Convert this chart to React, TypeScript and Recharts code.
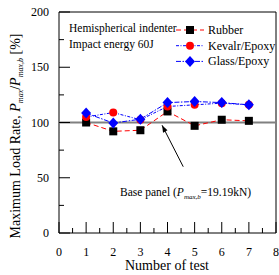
import { LineChart, Line, XAxis, YAxis, ReferenceLine, ReferenceArea } from 'recharts'

const tests = [1, 2, 3, 4, 5, 6, 7]
const rubber = [100, 92, 93, 110, 97, 102.5, 101.5]
const kevlar = [105, 109, 102.5, 114.5, 116, 117.5, 116]
const glass = [108.5, 99.5, 103, 118, 119, 118, 116]
const xTicks = [0, 0.5, 1, 1.5, 2, 2.5, 3, 3.5, 4, 4.5, 5, 5.5, 6, 6.5, 7, 7.5, 8]
const yTicks = [0, 25, 50, 75, 100, 125, 150, 175, 200]

const data = tests.map((t, i) => ({ test: t, rubber: rubber[i], kevlar: kevlar[i], glass: glass[i] }))

const FONT = '"Liberation Serif", "Times New Roman", serif'

function Square({ cx, cy }: any) {
  if (cx == null || cy == null) return null
  return <rect x={cx - 4} y={cy - 4} width={8} height={8} fill="#000" />
}

function Circle({ cx, cy }: any) {
  if (cx == null || cy == null) return null
  return <circle cx={cx} cy={cy} r={4} fill="#ff0000" />
}

function Diamond({ cx, cy }: any) {
  if (cx == null || cy == null) return null
  return <polygon points={`${cx},${cy - 5.5} ${cx + 5},${cy} ${cx},${cy + 5.5} ${cx - 5},${cy}`} fill="#0000ff" />
}

function YTick({ x, y, payload }: any) {
  const major = payload.value % 50 === 0
  return (
    <g>
      <line x1={x} y1={y} x2={x + (major ? 11 : 5)} y2={y} stroke="#000" />
      {major && (
        <text x={x - 10} y={y + 4} textAnchor="end" fontSize={12} fontFamily={FONT} fill="#000">
          {payload.value}
        </text>
      )}
    </g>
  )
}

function XTick({ x, y, payload }: any) {
  const major = Number.isInteger(payload.value)
  return (
    <g>
      <line x1={x} y1={y} x2={x} y2={y - (major ? 11 : 5)} stroke="#000" />
      {major && (
        <text x={x} y={y + 23} textAnchor="middle" fontSize={12} fontFamily={FONT} fill="#000">
          {payload.value}
        </text>
      )}
    </g>
  )
}

function Arrow({ x1, y1, x2, y2 }: any) {
  if (x1 == null) return null
  const ang = Math.atan2(y1 - y2, x1 - x2)
  const len = 7
  const w = 2.5
  const bx = x1 - Math.cos(ang) * len
  const by = y1 - Math.sin(ang) * len
  const px = -Math.sin(ang) * w
  const py = Math.cos(ang) * w
  return (
    <g>
      <line x1={x1} y1={y1} x2={x2} y2={y2} stroke="#000" strokeWidth={1} />
      <polygon points={`${x1},${y1} ${bx + px},${by + py} ${bx - px},${by - py}`} fill="#000" />
    </g>
  )
}

const legendItems = [
  { name: 'Rubber', color: '#ff0000', dash: '5 3', marker: 'square' },
  { name: 'Kevalr/Epoxy', color: '#0000ff', dash: '3 1.5 1 1.5', marker: 'circle' },
  { name: 'Glass/Epoxy', color: '#0000ff', dash: '5 1.5 1.5 1.5', marker: 'diamond' },
]

function LegendBox({ left, top }: { left: number; top: number }) {
  return (
    <g transform={`translate(${left},${top})`}>
      {legendItems.map((it, i) => {
        const y = i * 15.7
        return (
          <g key={it.name}>
            <line x1={0} y1={y} x2={28} y2={y} stroke={it.color} strokeDasharray={it.dash} />
            {it.marker === 'square' && <Square cx={14} cy={y} />}
            {it.marker === 'circle' && <Circle cx={14} cy={y} />}
            {it.marker === 'diamond' && <Diamond cx={14} cy={y} />}
            <text x={32} y={y + 4} fontSize={12} fill="#000">
              {it.name}
            </text>
          </g>
        )
      })}
    </g>
  )
}

export default function App() {
  return (
    <div style={{ position: 'relative', width: 279, height: 275, background: '#fff' }}>
      <style>{'body{margin:0}'}</style>
      <LineChart width={279} height={275} data={data} margin={{ top: 12, right: 3, left: 0, bottom: 0 }}>
        <XAxis
          dataKey="test"
          type="number"
          domain={[0, 8]}
          ticks={xTicks}
          interval={0}
          height={42}
          tickSize={0}
          tickMargin={0}
          tick={<XTick />}
          axisLine={false}
        />
        <YAxis
          type="number"
          domain={[0, 200]}
          ticks={yTicks}
          interval={0}
          width={59}
          tickSize={0}
          tickMargin={0}
          tick={<YTick />}
          axisLine={false}
        />
        <ReferenceArea x1={0} x2={8} y1={0} y2={200} fill="none" stroke="#000" strokeWidth={1} ifOverflow="visible" />
        <ReferenceLine y={100} stroke="#808080" strokeWidth={2} />
        <ReferenceLine
          segment={[{ x: 3.8, y: 97.5 }, { x: 4.58, y: 60 }]}
          shape={<Arrow />}
          ifOverflow="visible"
        />
        <Line
          dataKey="rubber"
          stroke="#ff0000"
          strokeDasharray="5 3"
          strokeWidth={1}
          dot={<Square />}
          isAnimationActive={false}
        />
        <Line
          dataKey="kevlar"
          stroke="#0000ff"
          strokeDasharray="3 1.5 1 1.5"
          strokeWidth={1}
          dot={<Circle />}
          isAnimationActive={false}
        />
        <Line
          dataKey="glass"
          stroke="#0000ff"
          strokeDasharray="5 1.5 1.5 1.5"
          strokeWidth={1}
          dot={<Diamond />}
          isAnimationActive={false}
        />
      </LineChart>
      <svg width={279} height={275} style={{ position: 'absolute', left: 0, top: 0, pointerEvents: 'none' }} fontFamily={FONT}>
        <LegendBox left={176} top={30} />
        <text x={69} y={32} fontSize={11.5}>Hemispherical indenter</text>
        <text x={69} y={48} fontSize={11.5}>Impact energy 60J</text>
        <text x={120} y={196} fontSize={11.5}>
          Base panel (<tspan fontStyle="italic">P</tspan>
          <tspan fontSize={7} fontStyle="italic" dy={3}>max,b</tspan>
          <tspan dy={-3}>=19.19kN)</tspan>
        </text>
        <text x={167} y={270} fontSize={14} textAnchor="middle">Number of test</text>
        <text transform="translate(20,136) rotate(-90)" fontSize={14} textAnchor="middle">
          Maximum Load Rate, <tspan fontStyle="italic">P</tspan>
          <tspan fontSize={8} fontStyle="italic" dy={3}>max</tspan>
          <tspan dy={-3}>/</tspan>
          <tspan fontStyle="italic">P</tspan>
          <tspan fontSize={8} fontStyle="italic" dy={3}>max,b</tspan>
          <tspan dy={-3}> [%]</tspan>
        </text>
      </svg>
    </div>
  )
}
